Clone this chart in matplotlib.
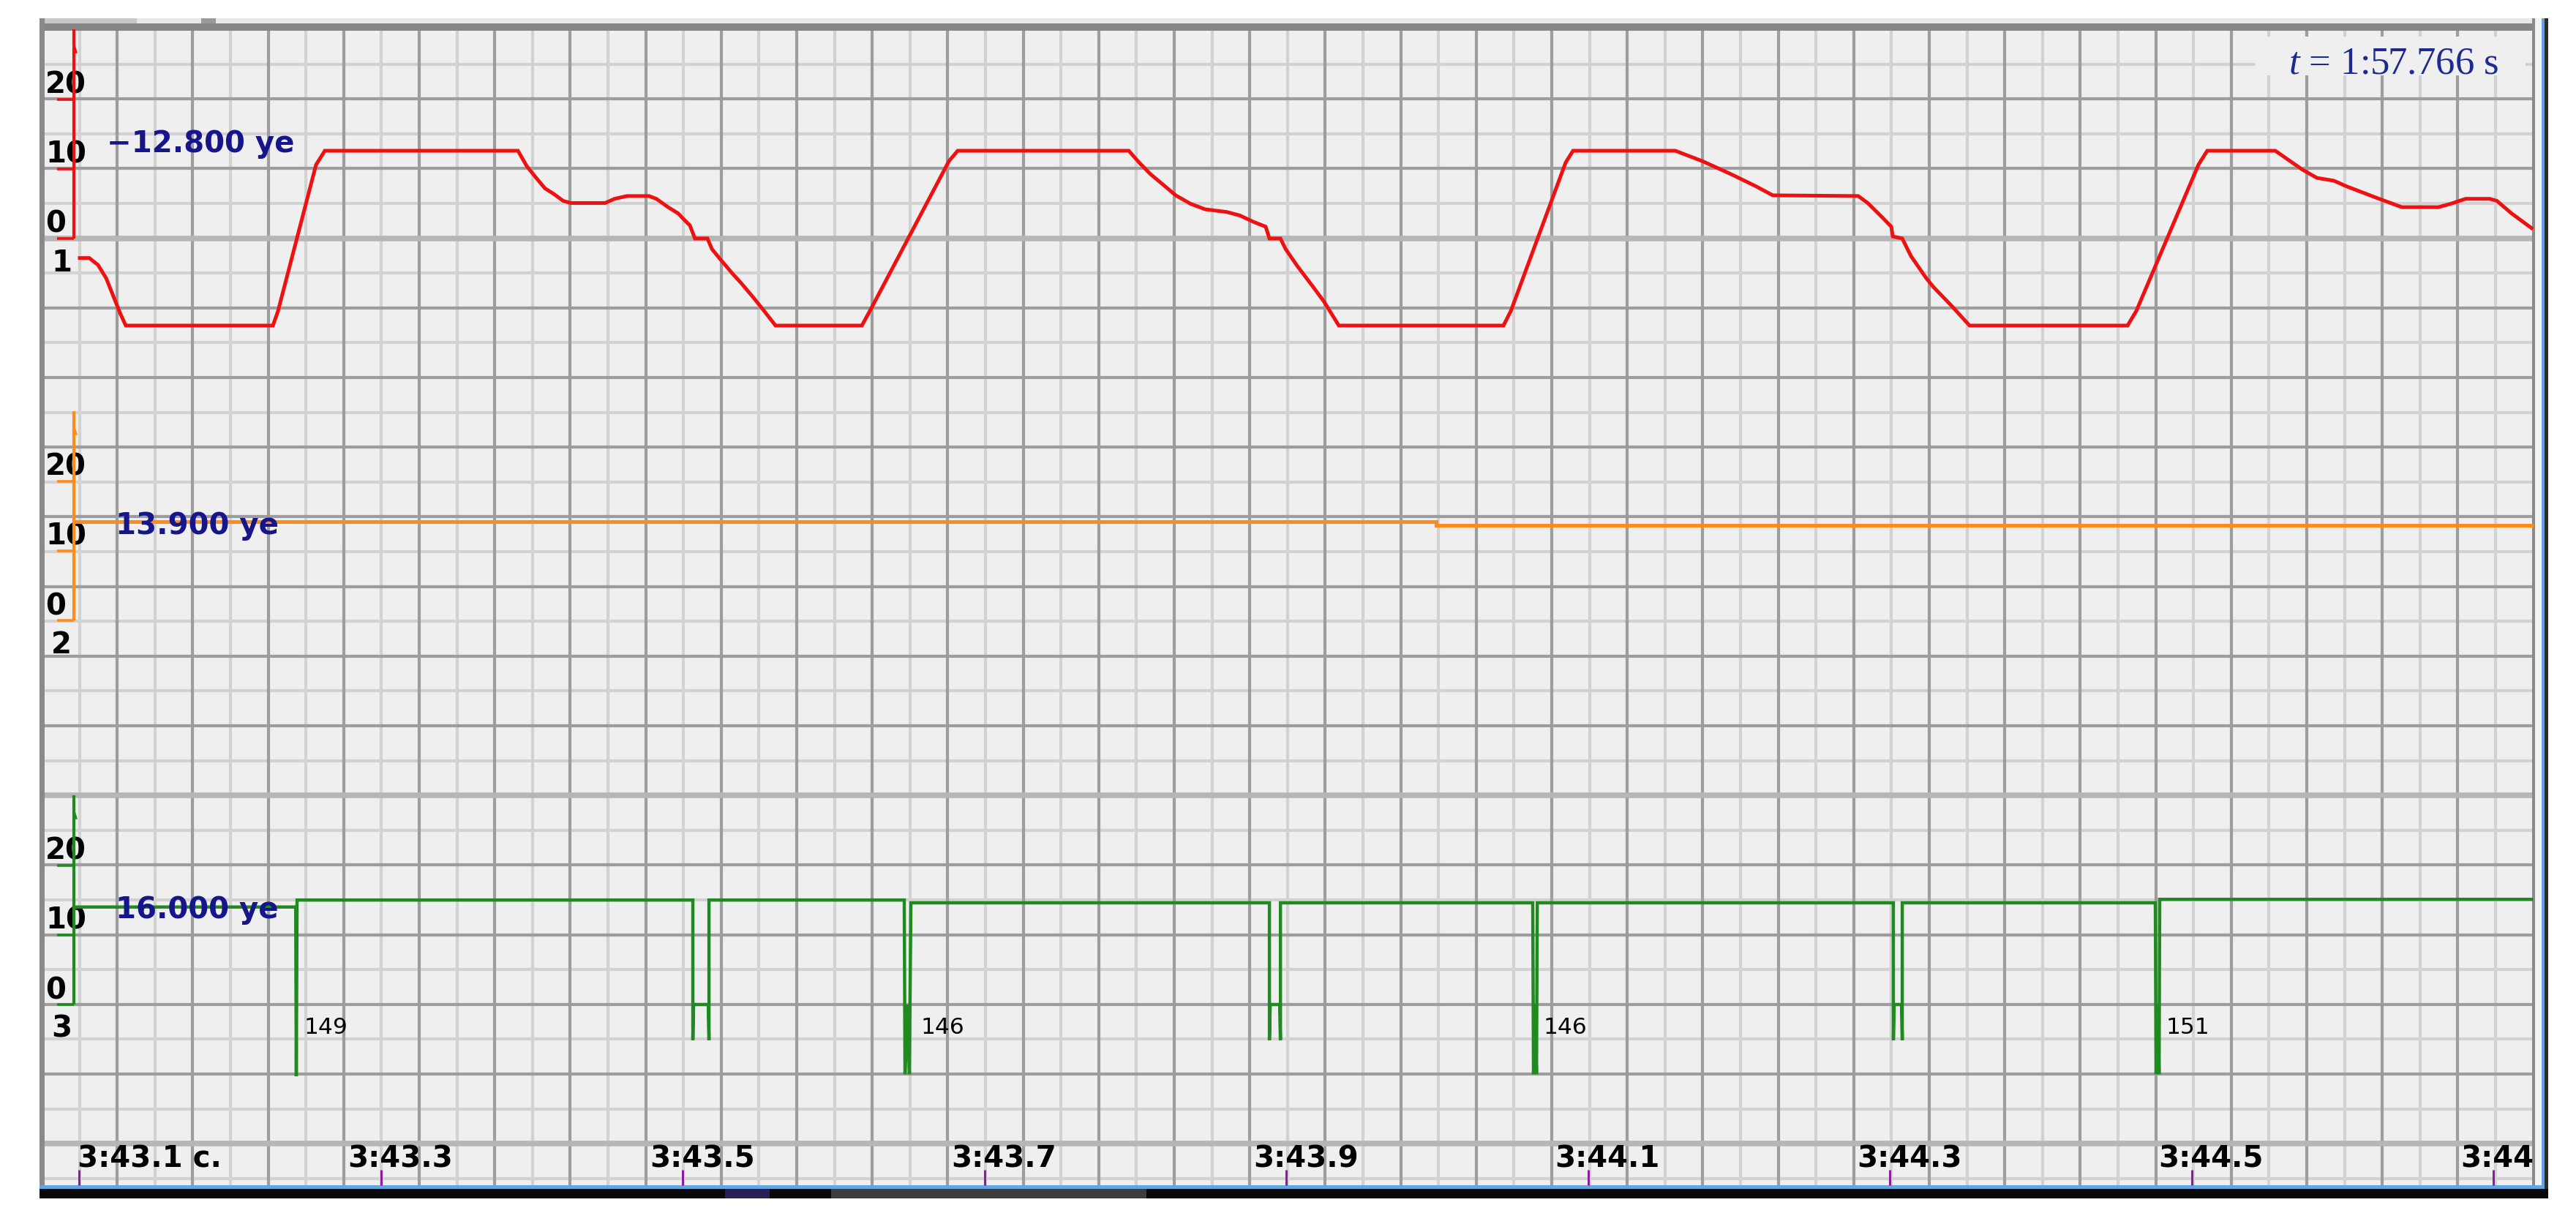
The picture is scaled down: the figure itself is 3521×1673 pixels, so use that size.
import matplotlib
matplotlib.use("Agg")
import matplotlib.pyplot as plt
import matplotlib.transforms as mtrans
from matplotlib.patches import Rectangle
import numpy as np

plt.rcParams["mathtext.fontset"] = "custom"
plt.rcParams["mathtext.it"] = "Liberation Serif:italic"
plt.rcParams["mathtext.rm"] = "Liberation Serif"

# ---------------- data (time in s, values in "ye") ----------------
red_t = [223.1005, 223.1068, 223.1126, 223.1180, 223.1237, 223.1276, 223.1310,
         223.2285, 223.2319, 223.2571, 223.2629,
         223.3909, 223.3967, 223.4026, 223.4088, 223.4146, 223.4209, 223.4258, 223.4487,
         223.4549, 223.4631, 223.4777, 223.4826, 223.4904, 223.4971, 223.5019, 223.5048,
         223.5082, 223.5165, 223.5194, 223.5243, 223.5325, 223.5388, 223.5470, 223.5533,
         223.5616,
         223.6188, 223.6246, 223.6765, 223.6823,
         223.7957, 223.8026, 223.8098, 223.8186, 223.8268, 223.8365, 223.8462, 223.8608,
         223.8694, 223.8782, 223.8864, 223.8889, 223.8962, 223.8996, 223.9072, 223.9170,
         223.9252, 223.9349,
         224.0440, 224.0489, 224.0852, 224.0901,
         224.1579, 224.1759, 224.1952, 224.2113, 224.2225, 224.2791, 224.2854, 224.2952,
         224.3010, 224.3020, 224.3083, 224.3140, 224.3242, 224.3291, 224.3407, 224.3529,
         224.4576, 224.4634, 224.5046, 224.5104,
         224.5555, 224.5734, 224.5831, 224.5943, 224.6026, 224.6219, 224.6331, 224.6394,
         224.6636, 224.6719, 224.6816, 224.6976, 224.7024, 224.7121, 224.7253]
red_v = [-2.8, -2.8, -3.8, -5.7, -8.8, -10.9, -12.5,
         -12.5, -10.4, 10.6, 12.6,
         12.6, 10.4, 8.8, 7.2, 6.4, 5.4, 5.1, 5.1,
         5.7, 6.1, 6.1, 5.7, 4.5, 3.6, 2.5, 1.9,
         0.0, 0.0, -1.5, -2.8, -4.9, -6.4, -8.5, -10.2,
         -12.5,
         -12.5, -10.2, 11.1, 12.6,
         12.6, 10.9, 9.3, 7.7, 6.2, 5.0, 4.2, 3.8,
         3.3, 2.4, 1.7, 0.0, 0.0, -1.5, -3.9, -6.7,
         -9.1, -12.5,
         -12.5, -10.4, 10.9, 12.6,
         12.6, 11.1, 9.2, 7.5, 6.2, 6.1, 5.1, 3.0,
         1.7, 0.3, 0.0, -2.5, -5.7, -7.0, -9.6, -12.5,
         -12.5, -10.4, 10.6, 12.6,
         12.6, 9.9, 8.7, 8.3, 7.5, 5.9, 5.0, 4.5,
         4.5, 5.0, 5.7, 5.7, 5.4, 3.6, 1.5]

orange_t = [223.0976, 223.9994, 223.9994, 224.7253]
orange_v = [14.2, 14.2, 13.7, 13.7]

green_t = [223.0966, 223.2436, 223.2440, 223.2445,
           223.5068, 223.5068, 223.5073, 223.5170, 223.5175, 223.5175,
           223.6469, 223.6474, 223.6489, 223.6503, 223.6513,
           223.8889, 223.8889, 223.8894, 223.8957, 223.8962, 223.8962,
           224.0634, 224.0639, 224.0649, 224.0659, 224.0664,
           224.3024, 224.3024, 224.3029, 224.3078, 224.3083, 224.3083,
           224.4760, 224.4765, 224.4775, 224.4785, 224.4789,
           224.7253]
green_v = [14.0, 14.0, -10.3, 15.0,
           15.0, -5.1, 0.0, 0.0, -5.1, 15.0,
           15.0, -10.0, 0.0, -10.0, 14.6,
           14.6, -5.1, 0.0, 0.0, -5.1, 14.6,
           14.6, -10.0, 0.0, -10.0, 14.6,
           14.6, -5.1, 0.0, 0.0, -5.1, 14.6,
           14.6, -10.0, 0.0, -10.0, 15.1,
           15.1]

spike_t = [223.2493, 223.6580, 224.0706, 224.4832]
spike_lab = ["149", "146", "146", "151"]

tick_t = [223.1, 223.3, 223.5, 223.7, 223.9, 224.1, 224.3, 224.5, 224.7]
tick_lab = ["3:43.1 c.", "3:43.3", "3:43.5", "3:43.7", "3:43.9",
            "3:44.1", "3:44.3", "3:44.5", "3:44.7"]

axis_ticks = [0, 10, 20]
chan_names = ["1", "2", "3"]
readouts = ["\u221212.800 ye", "13.900 ye", "16.000 ye"]
clock_txt = r"$t$ = 1:57.766 s"

# ---------------- layout (pixels) ----------------
W, H, DPI = 3521, 1673, 100
PX0, PX1, PY0, PY1 = 57, 3463, 38, 1620
PX_PER_S = 2062.5
T_REF, X_REF = 223.1, 108
PX_PER_UNIT = 9.52
ZERO_PX = [326, 848, 1373]
COLORS = ["#ee1111", "#ff8c1a", "#1f8a1f"]
NAVY = "#16168a"


def px2t(x):
    return T_REF + (x - X_REF) / PX_PER_S


fig = plt.figure(figsize=(W / DPI, H / DPI), dpi=DPI)
fig.patch.set_facecolor("white")

# background / frame, drawn in pixel coordinates
bg = fig.add_axes([0, 0, 1, 1])
bg.set_xlim(0, W)
bg.set_ylim(H, 0)
bg.axis("off")

bg.add_patch(Rectangle((PX0, PY0), PX1 - PX0, PY1 - PY0, fc="#efefef", ec="none", zorder=0))

gx = 57 + 51.6 * np.arange(1, 66)
gy = 40 + 47.6 * np.arange(1, 34)
light_x = gx[0::2]
dark_x = gx[1::2]
jj = np.arange(1, 34)
light_y = gy[jj % 2 == 1]
dark_y = gy[(jj % 2 == 0) & ~np.isin(jj, [6, 22, 32])]
thick_y = gy[np.isin(jj, [6, 22, 32])]

bg.vlines(light_x, PY0, PY1, colors="#d2d2d2", lw=3.0, zorder=1)
bg.hlines(light_y, PX0, PX1, colors="#d2d2d2", lw=3.0, zorder=1)
bg.vlines(dark_x, PY0, PY1, colors="#9d9d9d", lw=3.0, zorder=2)
bg.hlines(dark_y, PX0, PX1, colors="#9d9d9d", lw=3.0, zorder=2)
bg.hlines(thick_y, PX0, PX1, colors="#b6b6b6", lw=5.5, zorder=3)

# frame pieces
bg.add_patch(Rectangle((54, 25), 3416, 7, fc="#e8e8e8", ec="none", zorder=4))
bg.add_patch(Rectangle((54, 25), 133, 7, fc="#c8c8c8", ec="none", zorder=4))
bg.add_patch(Rectangle((275, 25), 20, 7, fc="#9a9a9a", ec="none", zorder=4))
bg.add_patch(Rectangle((54, 32), 3416, 10, fc="#868686", ec="none", zorder=4))
bg.add_patch(Rectangle((54, 25), 7, 1598, fc="#8a8a8a", ec="none", zorder=4))
bg.add_patch(Rectangle((3461, 25), 4, 1597, fc="#8a8a8a", ec="none", zorder=4))
bg.add_patch(Rectangle((3465, 25), 9, 1597, fc="#f3f3f3", ec="none", zorder=4))
bg.add_patch(Rectangle((3474, 25), 4, 1600, fc="#5fa3e0", ec="none", zorder=4))
bg.add_patch(Rectangle((3478, 25), 5, 1613, fc="#2c2c2c", ec="none", zorder=4))
bg.add_patch(Rectangle((54, 1620), 3424, 5, fc="#62a6e2", ec="none", zorder=4))
bg.add_patch(Rectangle((54, 1625), 3429, 13, fc="#080808", ec="none", zorder=4))
bg.add_patch(Rectangle((991, 1625), 61, 13, fc="#2b1d55", ec="none", zorder=5))
bg.add_patch(Rectangle((1136, 1625), 431, 13, fc="#3d3d3d", ec="none", zorder=5))

# clock box
bg.add_patch(Rectangle((3083, 50), 369, 53, fc="#efefef", ec="none", zorder=6))
bg.text(3128, 100, clock_txt, fontsize=38, family="Liberation Serif", color="#1e2a90",
        ha="left", va="baseline", zorder=7)

# ---------------- channel axes ----------------
rect = [PX0 / W, 1 - PY1 / H, (PX1 - PX0) / W, (PY1 - PY0) / H]
T_AX = px2t(101)
series = [(red_t, red_v, 3.6), (orange_t, orange_v, 3.6), (green_t, green_v, 3.2)]
axes = []
for i, (ts, vs, lw) in enumerate(series):
    z = ZERO_PX[i]
    c = COLORS[i]
    ax = fig.add_axes(rect)
    ax.set_xlim(px2t(PX0), px2t(PX1))
    ax.set_ylim((z - PY1) / PX_PER_UNIT, (z - PY0) / PX_PER_UNIT)
    ax.patch.set_visible(False)
    for s in ax.spines.values():
        s.set_visible(False)
    ax.set_xticks([])
    ax.set_yticks([])

    # channel scale bar with arrow
    ax.plot([T_AX, T_AX], [0, 30], color=c, lw=3.0, solid_capstyle="butt", zorder=3)
    ax.hlines(axis_ticks, px2t(78), T_AX, colors=c, lw=2.6, zorder=3)
    ax.fill([T_AX, px2t(106), T_AX], [28.4, 26.6, 26.6], color=c, lw=0, zorder=3)

    base = ax.transData
    for v in axis_ticks:
        ax.text(px2t(62), v, str(v), fontsize=29, fontweight="bold", color="black",
                ha="left", va="baseline",
                transform=mtrans.offset_copy(base, fig=fig, x=0, y=8, units="dots"), zorder=2)
    ax.text(px2t(70), 0, chan_names[i], fontsize=29, fontweight="bold", color="black",
            ha="left", va="baseline",
            transform=mtrans.offset_copy(base, fig=fig, x=0, y=-45, units="dots"))

    ax.plot(ts, vs, color=c, lw=lw, solid_joinstyle="miter", zorder=4)
    ax.text(px2t(146 if i == 0 else 158), 0, readouts[i], fontsize=29, fontweight="bold",
            color=NAVY, ha="left", va="baseline",
            transform=mtrans.offset_copy(base, fig=fig, x=0, y=118, units="dots"), zorder=5)
    axes.append(ax)

ax_g = axes[2]
for t, lab in zip(spike_t, spike_lab):
    ax_g.text(t, -4.2, lab, fontsize=22.5, color="black", ha="left", va="baseline", zorder=5)

# time axis: purple tick marks and labels inside the plot
ax_g.set_xticks(tick_t)
ax_g.tick_params(axis="x", direction="in", length=15, width=2.2, color="#8e1a9e",
                 labelbottom=False, bottom=True)
tb = mtrans.blended_transform_factory(ax_g.transData, ax_g.transAxes)
for i, (t, lab) in enumerate(zip(tick_t, tick_lab)):
    dx = -2 if i == 0 else -45
    ax_g.text(t, 0, lab, fontsize=29, fontweight="bold", color="black", ha="left",
              va="baseline", clip_on=True,
              transform=mtrans.offset_copy(tb, fig=fig, x=dx, y=25, units="dots"))

fig.savefig("out.png", dpi=DPI, facecolor="white")
